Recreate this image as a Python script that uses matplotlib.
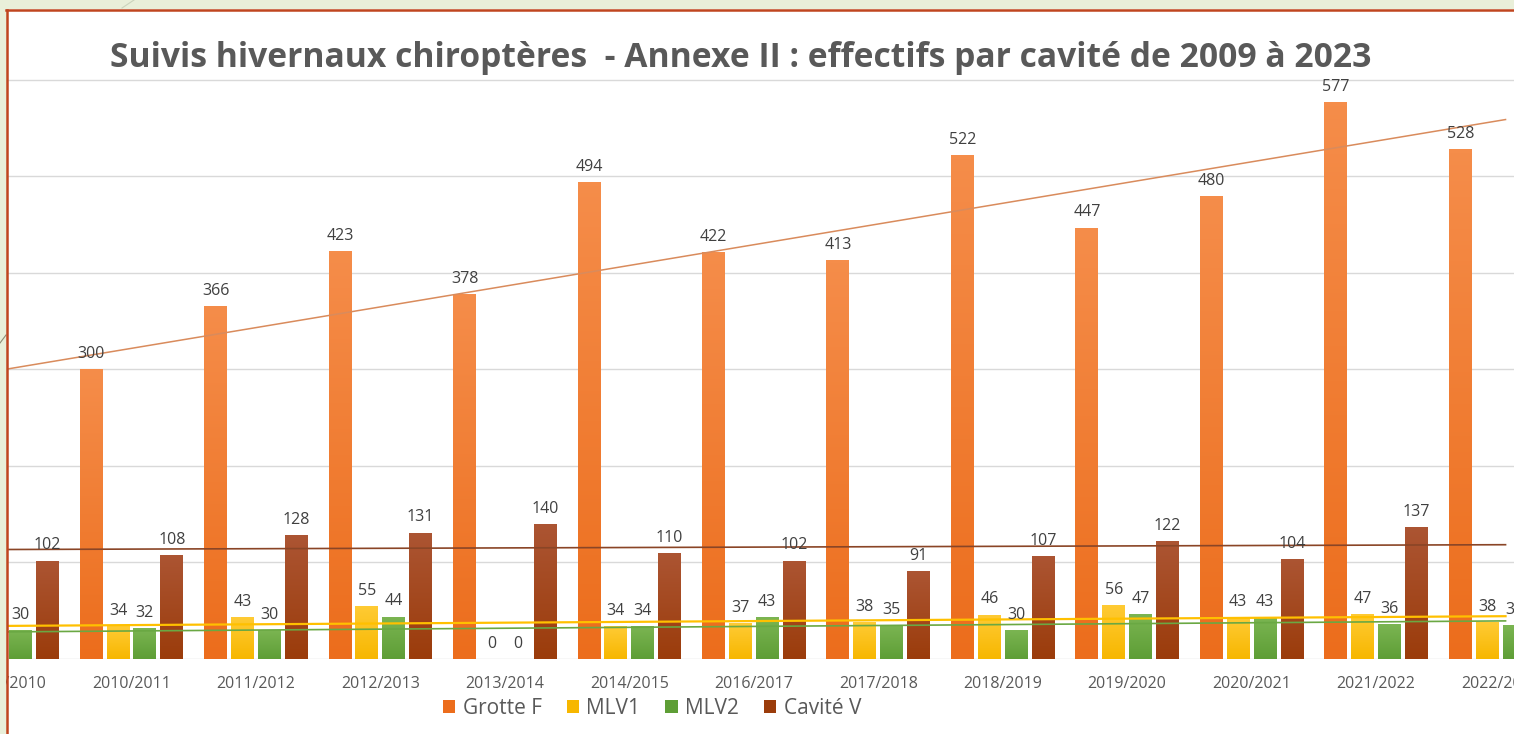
"""Suivis hivernaux chiroptères - Annexe II : effectifs par cavité (2009-2023)."""

import numpy as np
import matplotlib

matplotlib.use("Agg")

import matplotlib.pyplot as plt
from matplotlib import transforms
from matplotlib.colors import LinearSegmentedColormap
from matplotlib.lines import Line2D
from matplotlib.patches import Rectangle

plt.rcParams["font.family"] = ["Open Sans", "DejaVu Sans"]

# ── Data ────────────────────────────────────────────────────────────
SEASONS = [
    "2009/2010", "2010/2011", "2011/2012", "2012/2013", "2013/2014",
    "2014/2015", "2016/2017", "2017/2018", "2018/2019", "2019/2020",
    "2020/2021", "2021/2022", "2022/2023",
]
GROTTE_F = [230, 300, 366, 423, 378, 494, 422, 413, 522, 447, 480, 577, 528]
MLV1 = [40, 34, 43, 55, 0, 34, 37, 38, 46, 56, 43, 47, 38]
MLV2 = [30, 32, 30, 44, 0, 34, 43, 35, 30, 47, 43, 36, 35]
CAVITE_V = [102, 108, 128, 131, 140, 110, 102, 91, 107, 122, 104, 137, 125]

TITLE = ("Suivis hivernaux chiroptères  - Annexe II : "
         "effectifs par cavité de 2009 à 2023")

# name, values, gradient top, gradient bottom, trend colour, trend width
SERIES = [
    ("Grotte F", GROTTE_F, "#F58D4A", "#EC6D1C", "#D98B5C", 1.1),
    ("MLV1", MLV1, "#FFCB35", "#F7B700", "#FFC000", 1.6),
    ("MLV2", MLV2, "#7BB552", "#5E9E36", "#6AA843", 1.2),
    ("Cavité V", CAVITE_V, "#AC5533", "#9B3C0B", "#8A4526", 1.2),
]

W, H = 1514, 734
TEXT = "#595959"
GREEN_BG = "#E9EFD9"
BORDER = "#C0451F"

fig = plt.figure(figsize=(W / 100, H / 100), dpi=100, facecolor=GREEN_BG)

# white chart area behind the axes
fig.patches.append(Rectangle((7 / W, 0), 1, 1 - 9 / H, transform=fig.transFigure,
                             facecolor="white", edgecolor="none", zorder=-1))

ax = fig.add_axes([7 / W, 75 / H, 1 - 7 / W, 582 / H])
ax.set_facecolor("none")
for s in ax.spines.values():
    s.set_visible(False)

n = len(SEASONS)
x = np.arange(n)
pitch, width = 0.216, 0.184
x_min = 0.052
x_max = x_min + 1507 / 125

label_tr = transforms.offset_copy(ax.transData, fig=fig, x=0, y=8, units="points")

for k, (name, vals, top, bottom, tcol, tlw) in enumerate(SERIES):
    pos = x + (k - 1.5) * pitch
    bars = ax.bar(pos, vals, width, color=bottom, zorder=2, label=name)
    cmap = LinearSegmentedColormap.from_list(name, [bottom, top])
    grad = np.linspace(0, 1, 128).reshape(-1, 1)
    for p in bars.patches:
        h = p.get_height()
        if h <= 0:
            continue
        im = ax.imshow(grad, extent=(p.get_x(), p.get_x() + p.get_width(), 0, h),
                       origin="lower", cmap=cmap, aspect="auto", zorder=2.1)
        im.set_clip_path(p)
    for xp, v in zip(pos, vals):
        if xp < x_min - 0.05 or xp > x_max + 0.15:
            continue  # fully outside the cropped view
        ax.text(xp, v, str(v), transform=label_tr, ha="center", va="baseline",
                fontsize=11.5, color="#404040", clip_on=True, zorder=5)

    # linear trend line, as Excel does
    coef = np.polyfit(x, vals, 1)
    xl = np.array([-0.5, 12.04])
    ax.plot(xl, np.polyval(coef, xl), color=tcol, lw=tlw, zorder=4)

ax.set_xlim(x_min, x_max)
ax.set_ylim(0, 603)
ax.set_yticks(range(0, 700, 100))
ax.grid(axis="y", color="#D9D9D9", lw=1.0, zorder=0)
ax.set_axisbelow(True)
ax.tick_params(axis="y", left=False, labelleft=False)
ax.set_xticks(x, SEASONS)
ax.tick_params(axis="x", length=0, pad=12, labelsize=11.5, labelcolor=TEXT)

# title, fitted to the reference width
title = fig.text(741 / W, 1 - 67 / H, TITLE, ha="center", va="baseline",
                 fontsize=22, fontweight="bold", color=TEXT)
r = fig.canvas.get_renderer()
title.set_fontsize(title.get_fontsize() * 1258 / title.get_window_extent(r).width)

handles = [Rectangle((0, 0), 1, 1, facecolor=s[3]) for s in SERIES]
fig.legend(handles, [s[0] for s in SERIES], loc="center",
           bbox_to_anchor=(652 / W, 1 - 708 / H), ncol=4, frameon=False,
           fontsize=15, handlelength=0.6, handleheight=0.6, handletextpad=0.35,
           columnspacing=1.2, labelcolor=TEXT)

# slide margins and the chart frame on top of everything
fig.patches.append(Rectangle((0, 0), 6 / W, 1, transform=fig.transFigure,
                             facecolor=GREEN_BG, edgecolor="none", zorder=10))
fig.patches.append(Rectangle((0, 1 - 8 / H), 1, 8 / H, transform=fig.transFigure,
                             facecolor=GREEN_BG, edgecolor="none", zorder=10))
fig.lines.append(Line2D([122 / W, 134 / W], [1 - 8 / H, 1], transform=fig.transFigure,
                        color="#CBD3BC", lw=0.8, zorder=11))
fig.lines.append(Line2D([0, 6 / W], [1 - 343 / H, 1 - 335 / H], transform=fig.transFigure,
                        color="#8C8C74", lw=0.8, zorder=11))
fig.lines.append(Line2D([6.5 / W, 6.5 / W], [0, 1 - 9.5 / H], transform=fig.transFigure,
                        color=BORDER, lw=1.8, zorder=12))
fig.lines.append(Line2D([5.6 / W, 1], [1 - 9.5 / H, 1 - 9.5 / H], transform=fig.transFigure,
                        color=BORDER, lw=1.8, zorder=12))

fig.savefig("out.png", dpi=100, facecolor=fig.get_facecolor())
